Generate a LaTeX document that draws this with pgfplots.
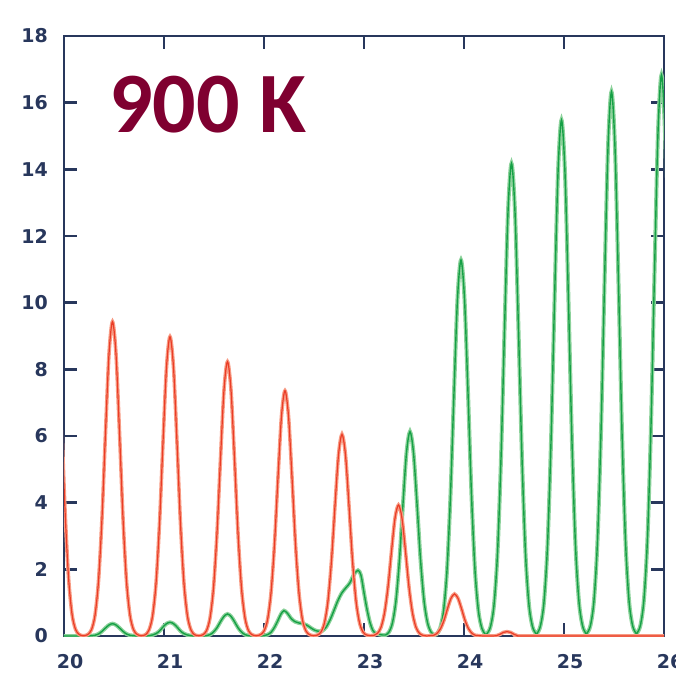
\documentclass[border=0pt]{standalone}
\usepackage{pgfplots}
\pgfplotsset{compat=1.18}
\usepackage{pgfplotstable}
\usepackage{fontspec}
\setmainfont{DejaVu Sans}
\newfontfamily\titlefont{Carlito}

\definecolor{axiscol}{RGB}{40,55,92}
\definecolor{redcore}{RGB}{234,60,38}
\definecolor{redhalo}{RGB}{247,155,132}
\definecolor{greencore}{RGB}{22,160,70}
\definecolor{greenhalo}{RGB}{140,210,155}
\definecolor{titlecol}{RGB}{127,0,48}

% red series
\pgfplotstableread{
x y
19.870 9.06
19.905 10.10
19.940 9.06
19.975 6.53
20.010 3.79
20.045 1.77
20.080 0.66
20.115 0.20
20.150 0.05
20.185 0.01
20.205 0.01
20.240 0.05
20.275 0.19
20.310 0.62
20.345 1.65
20.380 3.54
20.415 6.10
20.450 8.46
20.485 9.43
20.520 8.46
20.555 6.10
20.590 3.54
20.625 1.65
20.660 0.62
20.695 0.19
20.730 0.05
20.765 0.01
20.780 0.01
20.815 0.04
20.850 0.18
20.885 0.59
20.920 1.57
20.955 3.37
20.990 5.81
21.025 8.06
21.060 8.98
21.095 8.06
21.130 5.81
21.165 3.37
21.200 1.57
21.235 0.59
21.270 0.18
21.305 0.04
21.340 0.01
21.355 0.01
21.390 0.04
21.425 0.16
21.460 0.54
21.495 1.44
21.530 3.09
21.565 5.32
21.600 7.38
21.635 8.23
21.670 7.38
21.705 5.32
21.740 3.09
21.775 1.44
21.810 0.54
21.845 0.16
21.880 0.04
21.915 0.01
21.930 0.01
21.965 0.04
22.000 0.15
22.035 0.48
22.070 1.29
22.105 2.76
22.140 4.76
22.175 6.60
22.210 7.36
22.245 6.60
22.280 4.76
22.315 2.76
22.350 1.29
22.385 0.48
22.420 0.15
22.455 0.04
22.490 0.01
22.500 0.01
22.535 0.03
22.570 0.12
22.605 0.40
22.640 1.06
22.675 2.27
22.710 3.91
22.745 5.43
22.780 6.05
22.815 5.43
22.850 3.91
22.885 2.27
22.920 1.06
22.955 0.40
22.990 0.12
23.025 0.03
23.060 0.01
23.100 0.02
23.135 0.08
23.170 0.26
23.205 0.69
23.240 1.47
23.275 2.54
23.310 3.53
23.345 3.93
23.380 3.53
23.415 2.54
23.450 1.47
23.485 0.69
23.520 0.26
23.555 0.08
23.590 0.02
23.625 0
23.660 0.01
23.695 0.02
23.730 0.08
23.765 0.22
23.800 0.47
23.835 0.82
23.870 1.13
23.905 1.26
23.940 1.13
23.975 0.82
24.010 0.47
24.045 0.22
24.080 0.08
24.115 0.02
24.150 0.01
24.190 0
24.290 0
24.325 0.01
24.360 0.05
24.395 0.11
24.430 0.13
24.465 0.11
24.500 0.05
24.535 0.01
24.570 0
25.000 0
25.500 0
26.100 0
}\redtable

% green series
\pgfplotstableread{
x y
19.900 0
20.000 0
20.150 0
20.240 0
20.275 0.01
20.310 0.02
20.345 0.06
20.380 0.14
20.415 0.24
20.450 0.33
20.485 0.37
20.520 0.33
20.555 0.24
20.590 0.14
20.625 0.06
20.660 0.02
20.695 0.01
20.730 0
20.815 0
20.850 0.01
20.885 0.03
20.920 0.07
20.955 0.15
20.990 0.27
21.025 0.37
21.060 0.41
21.095 0.37
21.130 0.27
21.165 0.15
21.200 0.07
21.235 0.03
21.270 0.01
21.305 0
21.390 0
21.425 0.01
21.460 0.04
21.495 0.12
21.530 0.25
21.565 0.43
21.600 0.59
21.635 0.66
21.670 0.59
21.705 0.43
21.740 0.25
21.775 0.12
21.810 0.04
21.845 0.01
21.880 0
21.960 0
22.000 0.01
22.035 0.04
22.070 0.11
22.105 0.26
22.140 0.47
22.170 0.66
22.200 0.76
22.235 0.68
22.270 0.53
22.310 0.43
22.350 0.39
22.390 0.37
22.430 0.32
22.470 0.24
22.510 0.17
22.550 0.14
22.580 0.15
22.620 0.26
22.660 0.48
22.700 0.77
22.740 1.07
22.780 1.30
22.820 1.45
22.860 1.60
22.900 1.85
22.940 1.97
22.970 1.82
23.000 1.30
23.030 0.80
23.060 0.40
23.090 0.16
23.120 0.08
23.150 0.05
23.185 0.03
23.215 0.03
23.250 0.12
23.285 0.40
23.320 1.07
23.355 2.30
23.390 3.97
23.425 5.50
23.460 6.13
23.495 5.50
23.530 3.97
23.565 2.30
23.600 1.07
23.635 0.40
23.670 0.12
23.705 0.03
23.725 0.05
23.760 0.22
23.795 0.74
23.830 1.97
23.865 4.23
23.900 7.30
23.935 10.12
23.970 11.28
24.005 10.12
24.040 7.30
24.075 4.23
24.110 1.97
24.145 0.74
24.180 0.22
24.215 0.05
24.230 0.07
24.265 0.28
24.300 0.93
24.335 2.48
24.370 5.32
24.405 9.17
24.440 12.72
24.475 14.18
24.510 12.72
24.545 9.17
24.580 5.32
24.615 2.48
24.650 0.93
24.685 0.28
24.720 0.07
24.730 0.07
24.765 0.31
24.800 1.02
24.835 2.71
24.870 5.81
24.905 10.02
24.940 13.89
24.975 15.48
25.010 13.89
25.045 10.02
25.080 5.81
25.115 2.71
25.150 1.02
25.185 0.31
25.220 0.07
25.230 0.08
25.265 0.32
25.300 1.07
25.335 2.86
25.370 6.12
25.405 10.57
25.440 14.65
25.475 16.33
25.510 14.65
25.545 10.57
25.580 6.12
25.615 2.86
25.650 1.07
25.685 0.32
25.720 0.08
25.730 0.08
25.765 0.33
25.800 1.11
25.835 2.95
25.870 6.31
25.905 10.89
25.940 15.10
25.975 16.83
26.010 15.10
26.045 10.89
}\greentable

\begin{document}
\begin{tikzpicture}
\begin{axis}[
    name=ax,
    scale only axis,
    width=300pt, height=300pt,
    xmin=20, xmax=26, ymin=0, ymax=18,
    xtick={20,21,...,26},
    ytick={0,2,...,18},
    tick pos=both,
    tick align=inside,
    major tick length=6.5pt,
    every tick/.style={axiscol, line width=1.2pt},
    axis line style={axiscol, line width=1pt},
    ticklabel style={font=\fontsize{9.5}{10}\selectfont\bfseries, text=axiscol},
    /pgf/number format/assume math mode=true,
    yticklabel style={xshift=-4.5pt},
    xticklabel style={yshift=-5.5pt, xshift=3pt},
    clip=true,
]
\addplot[greenhalo, line width=2pt, smooth] table {\greentable};
\addplot[greencore, line width=0.7pt, smooth] table {\greentable};
\addplot[redhalo, line width=1.8pt, smooth] table {\redtable};
\addplot[redcore, line width=0.6pt, smooth] table {\redtable};
\node[anchor=base west, inner sep=0pt, text=titlecol,
      font=\titlefont\fontsize{43}{43}\selectfont\bfseries]
      at (axis cs:20.45,15.12) {900 K};
\end{axis}
\pgfresetboundingbox
\path[use as bounding box] ([shift={(-32pt,-20pt)}]ax.south west)
    rectangle ([shift={(306pt,318pt)}]ax.south west);
\end{tikzpicture}
\end{document}
